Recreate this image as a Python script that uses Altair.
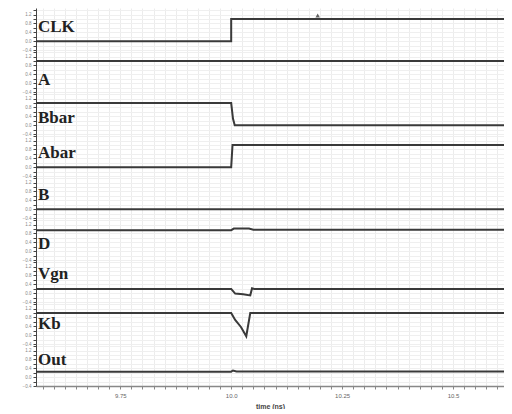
import altair as alt
import pandas as pd

# ---- data ----
signals = ["CLK", "A", "Bbar", "Abar", "B", "D", "Vgn", "Kb", "Out"]

clk_t = [9.56, 10.0, 10.0, 10.64]
clk_v = [0, 0, 1, 1]
a_t = [9.56, 10.64]
a_v = [1, 1]
bbar_t = [9.56, 10.0, 10.004, 10.008, 10.64]
bbar_v = [1, 1, 0.3, 0, 0]
abar_t = [9.56, 10.0, 10.003, 10.64]
abar_v = [0, 0, 1, 1]
b_t = [9.56, 10.64]
b_v = [0, 0]
d_t = [9.56, 10.0, 10.006, 10.04, 10.05, 10.64]
d_v = [0.95, 0.95, 1.02, 1.02, 0.97, 0.97]
vgn_t = [9.56, 10.0, 10.009, 10.027, 10.043, 10.047, 10.052, 10.64]
vgn_v = [0.19, 0.19, -0.02, -0.05, -0.1, 0.22, 0.19, 0.19]
kb_t = [9.56, 10.0, 10.009, 10.022, 10.034, 10.043, 10.64]
kb_v = [1.0, 1.0, 0.69, 0.37, -0.05, 1.0, 1.0]
out_t = [9.56, 10.0, 10.004, 10.012, 10.64]
out_v = [0.25, 0.25, 0.3, 0.26, 0.25]

series_t = [clk_t, a_t, bbar_t, abar_t, b_t, d_t, vgn_t, kb_t, out_t]
series_v = [clk_v, a_v, bbar_v, abar_v, b_v, d_v, vgn_v, kb_v, out_v]

marker_t = [10.195]
marker_v = [1.16]

x_tick_values = [9.75, 10.0, 10.25, 10.5]
x_tick_labels = ["9.75", "10.0", "10.25", "10.5"]
x_grid_values = [9.575, 9.6, 9.625, 9.65, 9.675, 9.7, 9.725, 9.75, 9.775, 9.8,
                 9.825, 9.85, 9.875, 9.9, 9.925, 9.95, 9.975, 10.0, 10.025,
                 10.05, 10.075, 10.1, 10.125, 10.15, 10.175, 10.2, 10.225,
                 10.25, 10.275, 10.3, 10.325, 10.35, 10.375, 10.4, 10.425,
                 10.45, 10.475, 10.5, 10.525, 10.55, 10.575, 10.6]
y_values = [-0.4, -0.2, 0.0, 0.2, 0.4, 0.6, 0.8, 1.0, 1.2, 1.4]

# ---- layout ----
W, H = 468, 42
label_offsets = [19, 30, 26, 19, 19, 26, 14, 22, 16]
line_color = "#3a3a3a"

x_scale = alt.Scale(domain=[9.56, 10.615], nice=False, zero=False)
y_scale = alt.Scale(domain=[-0.4, 1.5], nice=False, zero=False)

label_expr = " : ".join(
    f"abs(datum.value-{v})<0.001 ? '{s}'" for v, s in zip(x_tick_values, x_tick_labels)
) + " : ''"

y_axis = alt.Axis(values=y_values, title=None, labelFontSize=4.5, labelColor="#888",
                  labelExpr="abs(datum.value*10 % 4) < 0.01 ? format(datum.value, '.1f') : ''",
                  tickSize=3, tickColor="#444", domainColor="#444", grid=True,
                  gridColor="#efefef", labelPadding=2)

panels = []
for i, name in enumerate(signals):
    last = i == len(signals) - 1
    df = pd.DataFrame({"t": series_t[i], "v": series_v[i], "k": list(range(len(series_t[i])))})
    if last:
        xaxis = alt.Axis(values=x_grid_values, labelExpr=label_expr, title="time (ns)",
                         labelFontSize=6, titleFontSize=7, labelColor="#666",
                         titleColor="#444", tickSize=3, tickColor="#888",
                         domainColor="#888", domainWidth=1.5, grid=True,
                         gridColor="#ececec", labelPadding=3, titlePadding=4,
                         labelOverlap=False)
    else:
        xaxis = alt.Axis(values=x_grid_values, labels=False, ticks=False, domain=False,
                         title=None, grid=True, gridColor="#ececec")
    line = alt.Chart(df).mark_line(color=line_color, strokeWidth=2, clip=True).encode(
        x=alt.X("t:Q", scale=x_scale, axis=xaxis),
        y=alt.Y("v:Q", scale=y_scale, axis=y_axis),
        order="k:Q",
    )
    text = alt.Chart(pd.DataFrame({"name": [name]})).mark_text(
        font="Liberation Serif", fontWeight="bold", fontSize=17, color="#222",
        align="left", baseline="middle"
    ).encode(x=alt.value(2), y=alt.value(label_offsets[i]), text="name:N")
    layers = [line, text]
    if i == 0:
        mk = alt.Chart(pd.DataFrame({"t": marker_t, "v": marker_v})).mark_point(
            shape="triangle-up", filled=True, color="#222", size=20
        ).encode(x=alt.X("t:Q", scale=x_scale, axis=xaxis),
                 y=alt.Y("v:Q", scale=y_scale, axis=y_axis))
        layers.append(mk)
    panels.append(alt.layer(*layers).properties(width=W, height=H))

chart = alt.vconcat(*panels, spacing=0, bounds="flush").properties(padding=0).configure_view(
    strokeWidth=0
).configure_axisY(minExtent=28, maxExtent=28)

chart.save("out.html", embed_options={"renderer": "svg", "actions": False})
